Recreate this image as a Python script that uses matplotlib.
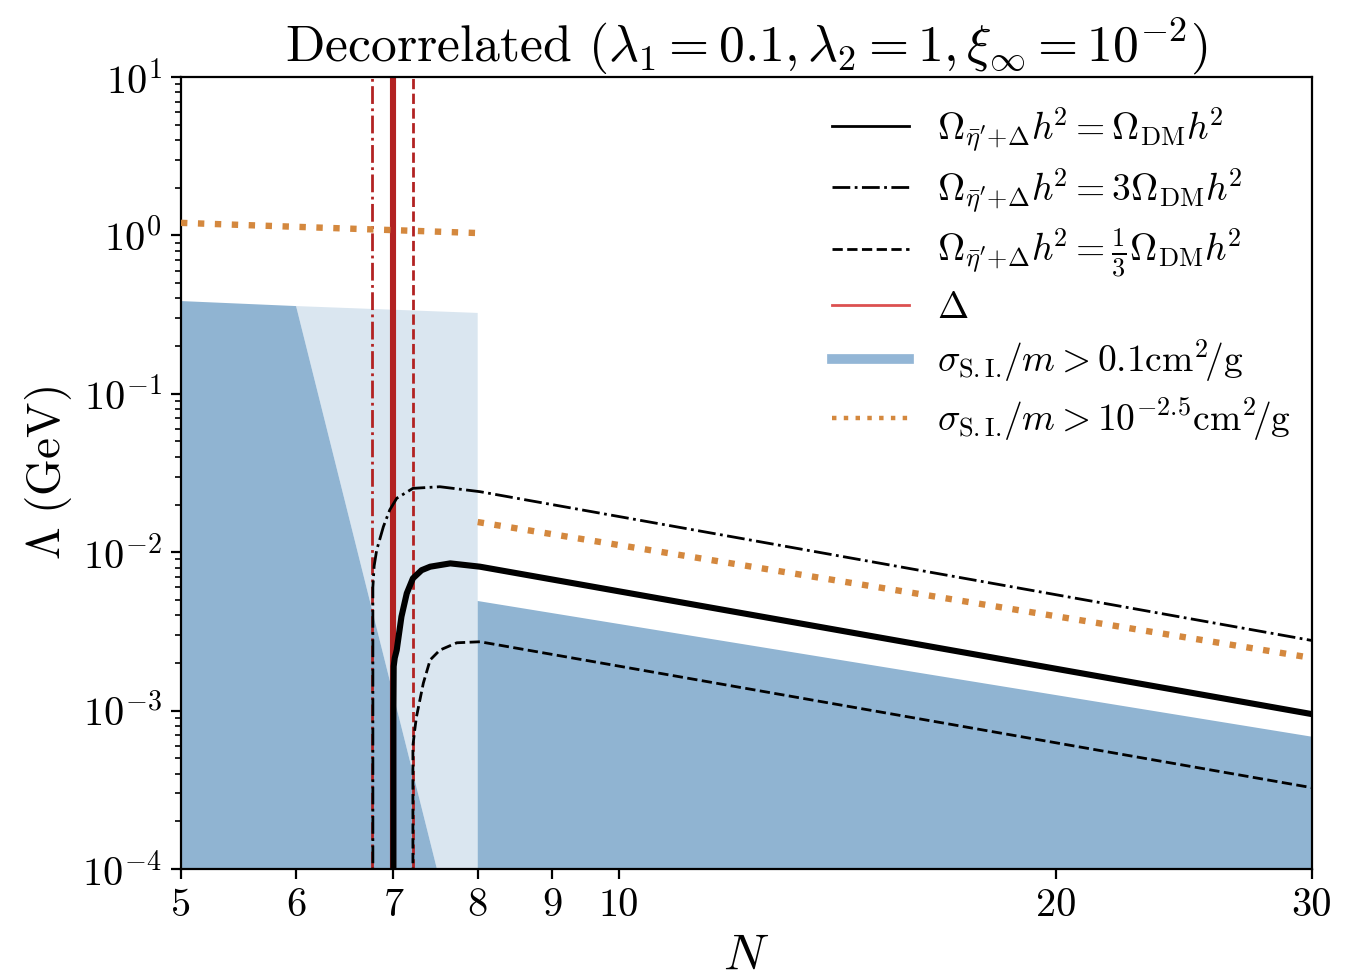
import matplotlib
matplotlib.use("Agg")
import matplotlib.pyplot as plt
from matplotlib.lines import Line2D
from matplotlib.ticker import FixedLocator, NullLocator, FixedFormatter

plt.rcParams['font.family'] = 'serif'
plt.rcParams['font.serif'] = ['cmr10', 'DejaVu Serif']
plt.rcParams['mathtext.fontset'] = 'cm'
plt.rcParams['axes.formatter.use_mathtext'] = True
plt.rcParams['axes.unicode_minus'] = False
plt.rcParams['font.size'] = 14.5

# ---------------- data ----------------
# relic abundance curves (N, Lambda [GeV])
N_dm = [7.0, 7.0, 7.003, 7.015, 7.037, 7.09, 7.15, 7.22, 7.32, 7.42, 7.66, 8.03, 30.0]
L_dm = [1e-5, 1e-3, 1.9e-3, 2.15e-3, 2.41e-3, 3.92e-3, 5.5e-3, 6.84e-3, 7.7e-3, 8.1e-3, 8.5e-3, 8.1e-3, 9.5e-4]

N_3dm = [6.776, 6.776, 6.79, 6.817, 6.89, 6.96, 7.037, 7.22, 7.535, 8.03, 30.0]
L_3dm = [1e-5, 6.0e-3, 8.2e-3, 1.03e-2, 1.45e-2, 1.85e-2, 2.19e-2, 2.53e-2, 2.59e-2, 2.41e-2, 2.77e-3]

N_13dm = [7.22, 7.22, 7.24, 7.26, 7.34, 7.42, 7.535, 7.74, 8.03, 30.0]
L_13dm = [1e-5, 6.0e-4, 7.5e-4, 9.1e-4, 1.49e-3, 2.09e-3, 2.41e-3, 2.68e-3, 2.72e-3, 3.26e-4]

# Delta vertical lines (N)
N_delta_1 = 7.0
N_delta_3 = 6.77
N_delta_13 = 7.22

# sigma_SI/m > 0.1 cm^2/g excluded region (polygons in N, Lambda)
dark_lo_N = [5.0, 6.0, 7.5, 5.0]
dark_lo_L = [0.385, 0.358, 1e-4, 1e-4]
light_N = [6.0, 8.0, 8.0, 7.5]
light_L = [0.358, 0.324, 1e-4, 1e-4]
dark_hi_N = [8.0, 30.0, 30.0, 8.0]
dark_hi_L = [4.92e-3, 6.84e-4, 1e-4, 1e-4]

# sigma_SI/m > 10^-2.5 cm^2/g boundary
orange_lo_N = [5.0, 8.0]
orange_lo_L = [1.2, 1.035]
orange_hi_N = [8.0, 30.0]
orange_hi_L = [1.55e-2, 2.15e-3]

x_ticks = [5, 6, 7, 8, 9, 10, 20, 30]
x_tick_labels = ['5', '6', '7', '8', '9', '10', '20', '30']

labels = [
    r'$\Omega_{\bar{\eta}^{\prime}{+}\Delta}h^{\!2} = \Omega_{\rm DM}h^{\!2}$',
    r'$\Omega_{\bar{\eta}^{\prime}{+}\Delta}h^{\!2} = 3\Omega_{\rm DM}h^{\!2}$',
    r'$\Omega_{\bar{\eta}^{\prime}{+}\Delta}h^{\!2} = \frac{1}{3}\Omega_{\rm DM}h^{\!2}$',
    r'$\Delta$',
    r'$\sigma_{\rm S.I.}\!/m > 0.1{\rm cm}^2\!/{\rm g}$',
    r'$\sigma_{\rm S.I.}\!/m > 10^{-2.5}{\rm cm}^2\!/{\rm g}$',
]

# ---------------- plot ----------------
fig = plt.figure(figsize=(6.75, 4.9), dpi=200)
ax = fig.add_axes([181/1350, 111/980, 1131/1350, 792/980])
ax.set_xscale('log')
ax.set_yscale('log')

dark = '#90b4d2'
light = '#dae6f0'
ax.fill(light_N, light_L, color=light, lw=0, zorder=1)
ax.fill(dark_lo_N, dark_lo_L, color=dark, lw=0, zorder=1.1)
ax.fill(dark_hi_N, dark_hi_L, color=dark, lw=0, zorder=1.1)

red = '#b22222'
ax.axvline(N_delta_1, color=red, lw=2.2, zorder=2)
ax.axvline(N_delta_3, color=red, lw=1.0, ls='-.', zorder=2)
ax.axvline(N_delta_13, color=red, lw=1.0, ls='--', zorder=2)

orange = '#d4883e'
ax.plot(orange_lo_N, orange_lo_L, color=orange, lw=2.3, ls=':', zorder=3)
ax.plot(orange_hi_N, orange_hi_L, color=orange, lw=2.3, ls=':', zorder=3)

ax.plot(N_dm, L_dm, color='k', lw=2.2, zorder=4)
ax.plot(N_3dm, L_3dm, color='k', lw=1.0, ls='-.', zorder=4)
ax.plot(N_13dm, L_13dm, color='k', lw=1.0, ls='--', zorder=4)

ax.set_xlim(5, 30)
ax.set_ylim(1e-4, 10)
ax.xaxis.set_major_locator(FixedLocator(x_ticks))
ax.xaxis.set_major_formatter(FixedFormatter(x_tick_labels))
ax.xaxis.set_minor_locator(NullLocator())
ax.tick_params(labelsize=14.5)

ax.set_xlabel(r'$N$', fontsize=18, labelpad=3)
ax.set_ylabel(r'$\Lambda\ (\mathrm{GeV})$', fontsize=17, labelpad=3)
ax.set_title(r'Decorrelated $(\lambda_1 = 0.1, \lambda_2 = 1, \xi_\infty = 10^{-2})$',
             fontsize=18.6, pad=6)

handles = [
    Line2D([], [], color='k', lw=1.0),
    Line2D([], [], color='k', lw=1.0, ls='-.'),
    Line2D([], [], color='k', lw=1.0, ls='--'),
    Line2D([], [], color='#dc5050', lw=1.0),
    Line2D([], [], color='#93b6d6', lw=3.5),
    Line2D([], [], color=orange, lw=1.6, ls=':'),
]
ax.legend(handles, labels, loc='upper right', frameon=False, fontsize=13.5,
          handlelength=2.05, handletextpad=0.75, labelspacing=0.32,
          borderaxespad=0.15, bbox_to_anchor=(1.0, 0.99))

fig.savefig('out.png', dpi=200)
